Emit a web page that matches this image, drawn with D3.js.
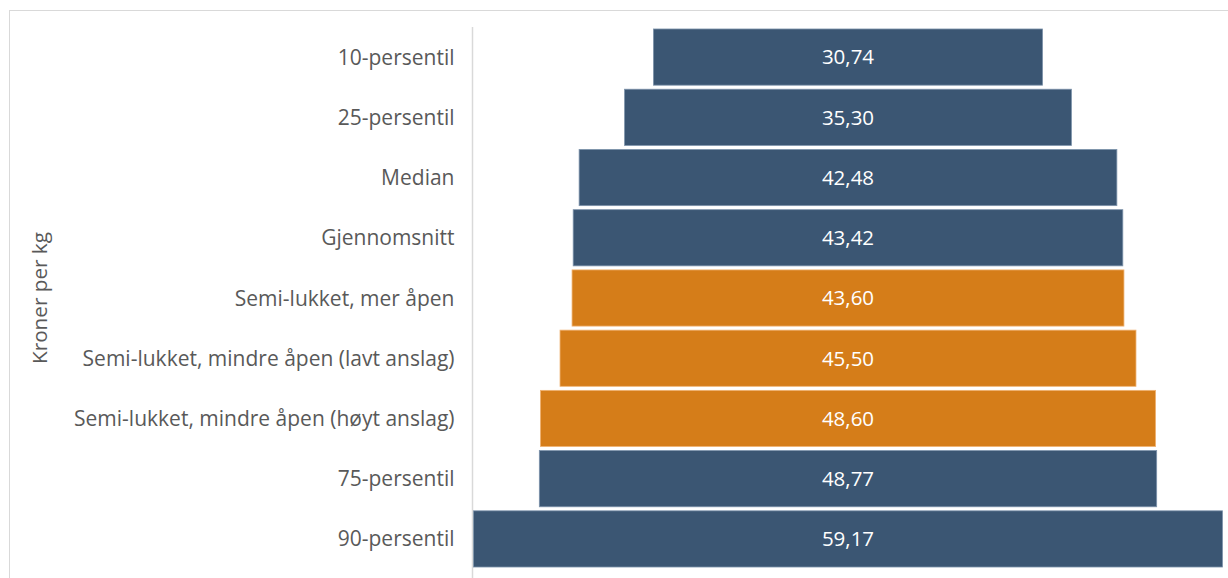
<!DOCTYPE html>
<html>
<head>
<meta charset="utf-8">
<script src="https://cdn.jsdelivr.net/npm/d3@7"></script>
<style>
  body { margin: 0; background: #fff; }
  svg { display: block; font-family: "Open Sans", sans-serif; }
</style>
</head>
<body>
<svg id="chart" width="1228" height="578"></svg>
<script>
// categories top to bottom
const categories = [
  "10-persentil",
  "25-persentil",
  "Median",
  "Gjennomsnitt",
  "Semi-lukket, mer åpen",
  "Semi-lukket, mindre åpen (lavt anslag)",
  "Semi-lukket, mindre åpen (høyt anslag)",
  "75-persentil",
  "90-persentil"
];
const values = [30.74, 35.30, 42.48, 43.42, 43.60, 45.50, 48.60, 48.77, 59.17];
const groups = ["ref", "ref", "ref", "ref", "semi", "semi", "semi", "ref", "ref"];
const yTitle = "Kroner per kg";

const colors = { ref: "#3B5673", semi: "#D57D19" };
const strokes = { ref: "#7d93ab", semi: "#f0b374" };

const svg = d3.select("#chart");

// outer frame
svg.append("rect")
  .attr("x", 9.5).attr("y", 10.5)
  .attr("width", 1240).attr("height", 600)
  .attr("fill", "none")
  .attr("stroke", "#d9d9d9");

const axisX = 472.5;
const centerX = 848;

const y = d3.scaleBand()
  .domain(categories)
  .range([27, 569])
  .paddingInner(0.067)
  .paddingOuter(0.033);

// width of a bar, centered on centerX
const w = d3.scaleLinear()
  .domain([0, d3.max(values)])
  .range([0, 749]);

const data = categories.map((c, i) => ({ cat: c, val: values[i], grp: groups[i] }));

// axis line
svg.append("line")
  .attr("x1", axisX).attr("x2", axisX)
  .attr("y1", 27).attr("y2", 578)
  .attr("stroke", "#d9d9d9")
  .attr("stroke-width", 1.5);

svg.selectAll("rect.bar")
  .data(data)
  .join("rect")
  .attr("class", "bar")
  .attr("x", d => centerX - w(d.val) / 2)
  .attr("y", d => y(d.cat))
  .attr("width", d => w(d.val))
  .attr("height", y.bandwidth())
  .attr("fill", d => colors[d.grp])
  .attr("stroke", d => strokes[d.grp])
  .attr("stroke-width", 0.8);

svg.selectAll("text.val")
  .data(data)
  .join("text")
  .attr("class", "val")
  .attr("x", centerX)
  .attr("y", d => y(d.cat) + y.bandwidth() / 2)
  .attr("dy", "0.36em")
  .attr("text-anchor", "middle")
  .attr("fill", "#fff")
  .style("font-size", "20.5px")
  .text(d => d.val.toFixed(2).replace(".", ","));

// category labels
const yAxis = d3.axisLeft(y).tickSize(0).tickPadding(18);
const gy = svg.append("g")
  .attr("transform", `translate(${axisX},0)`)
  .call(yAxis);
gy.select(".domain").remove();
gy.selectAll("text")
  .attr("fill", "#595959")
  .attr("dy", "0.36em")
  .style("font-size", "21px")
  .style("font-family", "'Open Sans', sans-serif");

svg.append("text")
  .attr("transform", "translate(47,298) rotate(-90)")
  .attr("text-anchor", "middle")
  .attr("fill", "#595959")
  .style("font-size", "20.7px")
  .text(yTitle);
</script>
</body>
</html>
